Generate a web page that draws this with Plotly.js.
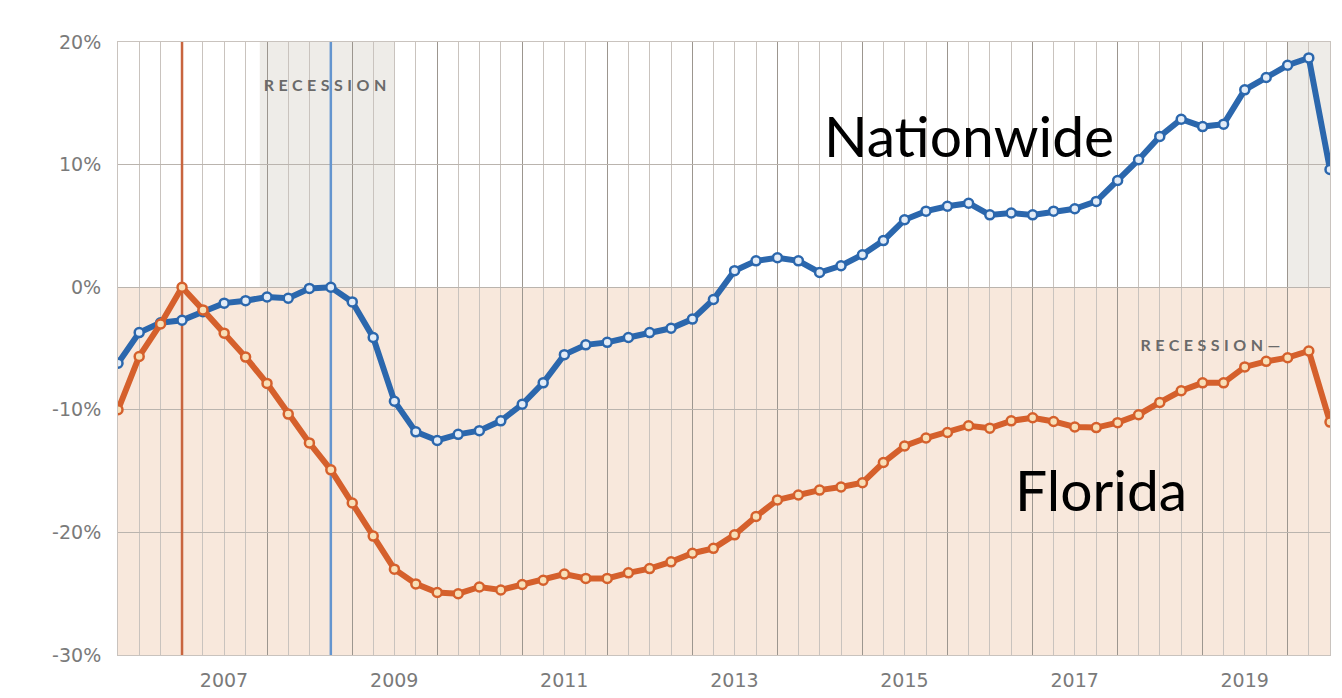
<!DOCTYPE html>
<html>
<head>
<meta charset="utf-8">
<script src="https://cdn.plot.ly/plotly-3.0.1.min.js"></script>
<style>
  html, body { margin: 0; padding: 0; background: #ffffff; }
  #chart { width: 1342px; height: 698px; }
  .annotation[data-index="0"] text, .annotation[data-index="1"] text { letter-spacing: 4.5px; }
</style>
</head>
<body>
<div id="chart"></div>
<script>
// Quarterly observation dates
const quarters = [
  "2006-04-01","2006-07-01","2006-10-01",
  "2007-01-01","2007-04-01","2007-07-01","2007-10-01",
  "2008-01-01","2008-04-01","2008-07-01","2008-10-01",
  "2009-01-01","2009-04-01","2009-07-01","2009-10-01",
  "2010-01-01","2010-04-01","2010-07-01","2010-10-01",
  "2011-01-01","2011-04-01","2011-07-01","2011-10-01",
  "2012-01-01","2012-04-01","2012-07-01","2012-10-01",
  "2013-01-01","2013-04-01","2013-07-01","2013-10-01",
  "2014-01-01","2014-04-01","2014-07-01","2014-10-01",
  "2015-01-01","2015-04-01","2015-07-01","2015-10-01",
  "2016-01-01","2016-04-01","2016-07-01","2016-10-01",
  "2017-01-01","2017-04-01","2017-07-01","2017-10-01",
  "2018-01-01","2018-04-01","2018-07-01","2018-10-01",
  "2019-01-01","2019-04-01","2019-07-01","2019-10-01",
  "2020-01-01","2020-04-01","2020-07-01"
];

// Percent change from each series' pre-crash peak
const nationwide = [
  -6.2, -3.7, -2.9,
  -2.7, -2.0, -1.3, -1.1,
  -0.8, -0.9, -0.1, 0.0,
  -1.2, -4.1, -9.3, -11.8,
  -12.5, -12.0, -11.7, -10.9,
  -9.55, -7.8, -5.5, -4.7,
  -4.5, -4.1, -3.7, -3.35,
  -2.6, -1.0, 1.35, 2.15,
  2.4, 2.15, 1.2, 1.75,
  2.65, 3.8, 5.5, 6.2,
  6.6, 6.85, 5.9, 6.05,
  5.9, 6.2, 6.4, 7.0,
  8.7, 10.4, 12.3, 13.7,
  13.1, 13.3, 16.1, 17.1,
  18.1, 18.7, 9.6
];

const florida = [
  -10.0, -5.65, -3.0,
  0.0, -1.85, -3.75, -5.7,
  -7.85, -10.35, -12.7, -14.9,
  -17.6, -20.3, -23.0, -24.2,
  -24.9, -25.0, -24.45, -24.7,
  -24.25, -23.9, -23.4, -23.75,
  -23.75, -23.3, -22.95, -22.4,
  -21.7, -21.3, -20.2, -18.7,
  -17.35, -16.95, -16.55, -16.3,
  -15.95, -14.3, -12.95, -12.3,
  -11.85, -11.3, -11.5, -10.9,
  -10.65, -10.95, -11.4, -11.45,
  -11.05, -10.4, -9.4, -8.45,
  -7.8, -7.8, -6.5, -6.05,
  -5.75, -5.2, -11.0
];

// Recession periods (start, end)
const recessions = [
  ["2007-12-01", "2009-06-30"],
  ["2020-01-01", "2020-07-01"]
];

// Axis ticks
const yearStarts = ["2007-01-01","2008-01-01","2009-01-01","2010-01-01","2011-01-01","2012-01-01","2013-01-01",
                    "2014-01-01","2015-01-01","2016-01-01","2017-01-01","2018-01-01","2019-01-01","2020-01-01"];
const yearLabels = ["2007","","2009","","2011","","2013","","2015","","2017","","2019",""];
const yTickVals = [-30, -20, -10, 0, 10, 20];
const yTickText = ["-30%", "-20%", "-10%", "0%", "10%", "20%"];
const yMin = yTickVals[0], yMax = yTickVals[yTickVals.length - 1];

const BLUE = "#2b67ad";
const ORANGE = "#d5602c";

const nationPeak = quarters[nationwide.indexOf(0)];
const floridaPeak = quarters[florida.indexOf(0)];

const traces = [
  { x: [floridaPeak, floridaPeak], y: [yMin, yMax], type: "scatter", mode: "lines",
    line: { color: "#c8653f", width: 2.5 }, hoverinfo: "skip" },
  { x: [nationPeak, nationPeak], y: [yMin, yMax], type: "scatter", mode: "lines",
    line: { color: "#6495cf", width: 2.5 }, hoverinfo: "skip" },
  {
    x: quarters, y: nationwide, type: "scatter", mode: "lines+markers", name: "Nationwide",
    line: { color: BLUE, width: 6 },
    marker: { size: 9, color: "#e3ecf7", line: { color: BLUE, width: 2.5 } },
    hoverinfo: "skip"
  },
  {
    x: quarters, y: florida, type: "scatter", mode: "lines+markers", name: "Florida",
    line: { color: ORANGE, width: 6 },
    marker: { size: 9, color: "#f8e0b8", line: { color: ORANGE, width: 2.5 } },
    hoverinfo: "skip"
  }
];

const xStart = quarters[0];
const xEnd = quarters[quarters.length - 1];

const shapes = [
  { type: "rect", layer: "below", xref: "x", yref: "y", x0: xStart, x1: xEnd, y0: yMin, y1: 0,
    fillcolor: "#f8e8dc", line: { width: 0 } }
];
recessions.forEach(r => shapes.push({
  type: "rect", layer: "below", xref: "x", yref: "paper", x0: r[0], x1: r[1], y0: 0, y1: 1,
  fillcolor: "rgba(140,130,100,0.15)", line: { width: 0 }
}));

const recFont = { family: "Lato, 'Open Sans', sans-serif", size: 16, color: "#6a6a6a", weight: 700 };
const bigFont = { family: "Lato, 'Open Sans', sans-serif", size: 57, color: "#000000" };

const annotations = [
  { text: "RECESSION", x: "2008-09-15", y: 16.5, xref: "x", yref: "y", showarrow: false, font: recFont, xanchor: "center", yanchor: "middle" },
  { text: "RECESSION—", x: "2019-02-12", y: -4.7, xref: "x", yref: "y", showarrow: false, font: recFont, xanchor: "center", yanchor: "middle" },
  { text: "Nationwide", x: "2016-04-01", y: 12.4, xref: "x", yref: "y", showarrow: false, font: bigFont, xanchor: "center", yanchor: "middle" },
  { text: "Florida", x: "2017-10-22", y: -16.5, xref: "x", yref: "y", showarrow: false, font: bigFont, xanchor: "center", yanchor: "middle" }
];

const tickFont = { family: "'DejaVu Sans', sans-serif", size: 19, color: "#7a7a7a" };

const layout = {
  width: 1342, height: 698,
  margin: { l: 118, r: 12, t: 42, b: 43 },
  paper_bgcolor: "#ffffff",
  plot_bgcolor: "#ffffff",
  showlegend: false,
  xaxis: {
    type: "date",
    range: [xStart, xEnd],
    tickmode: "array", tickvals: yearStarts, ticktext: yearLabels,
    ticklabelshift: 42, ticklabelstandoff: 8,
    ticks: "",
    showgrid: true, gridcolor: "#9c968f", gridwidth: 1,
    minor: { dtick: "M3", tick0: "2006-01-01", showgrid: true, gridcolor: "#c9c3be", gridwidth: 1, ticks: "" },
    zeroline: false,
    showline: true, linecolor: "#c9c3be", linewidth: 1, mirror: true,
    tickfont: tickFont,
    fixedrange: true
  },
  yaxis: {
    range: [yMin, yMax],
    tickmode: "array", tickvals: yTickVals, ticktext: yTickText,
    ticks: "", ticklabelstandoff: 12,
    showgrid: true, gridcolor: "#bab4ae", gridwidth: 1,
    zeroline: false,
    showline: true, linecolor: "#c9c3be", linewidth: 1, mirror: true,
    tickfont: tickFont,
    fixedrange: true
  },
  shapes: shapes,
  annotations: annotations
};

Plotly.newPlot("chart", traces, layout, { staticPlot: true, displayModeBar: false });
</script>
</body>
</html>
